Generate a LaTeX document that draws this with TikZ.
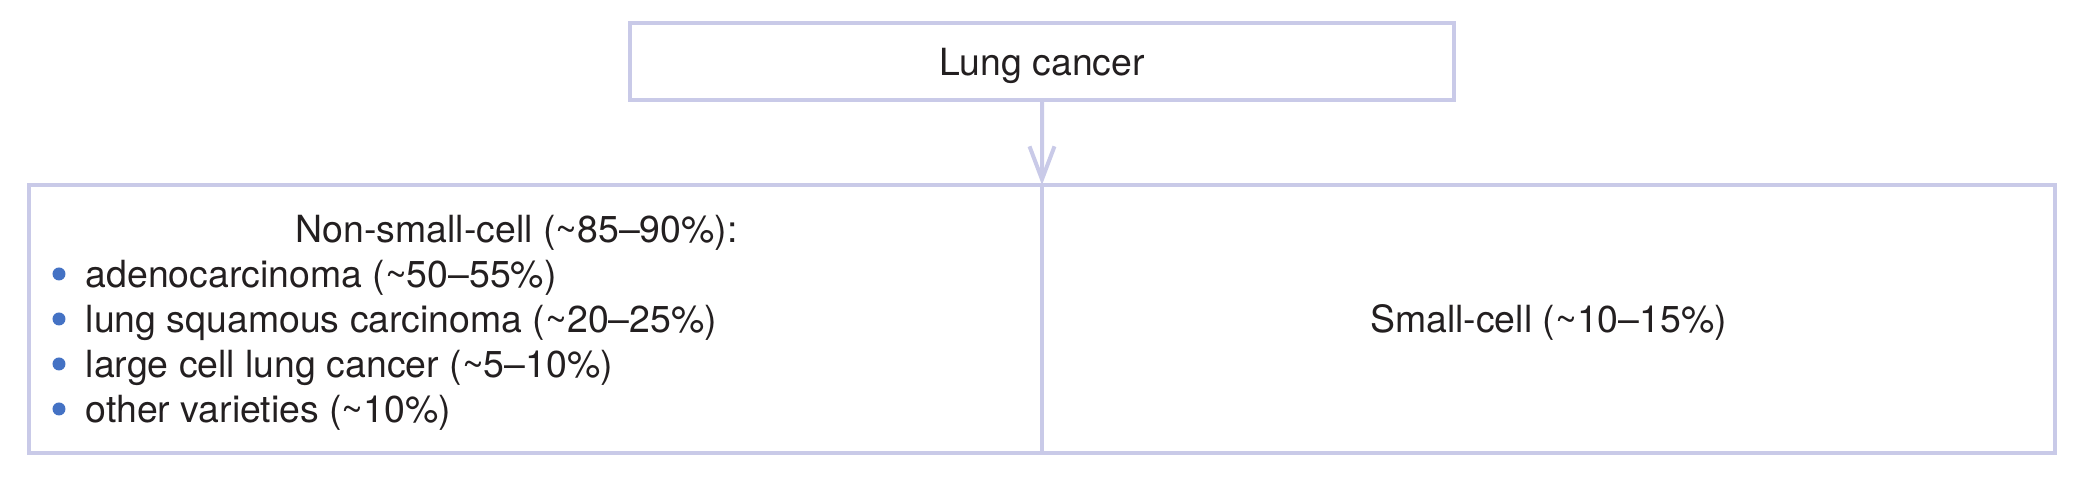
\documentclass[tikz,border=0pt]{standalone}
\usepackage{fontspec}
\setmainfont{TeX Gyre Heros}
\usetikzlibrary{arrows.meta,positioning}
\definecolor{boxline}{RGB}{201,202,232}
\definecolor{dotblue}{RGB}{68,114,196}
\definecolor{inktext}{RGB}{35,31,32}

\begin{document}
\begin{tikzpicture}[
    font=\fontsize{10.65pt}{12.8pt}\selectfont, text=inktext,
    cellbox/.style={draw=boxline, line width=0.45mm, outer sep=0pt, inner sep=0pt, text depth=0pt},
    linetext/.style={anchor=base west, inner sep=0pt},
    dot/.style={circle, fill=dotblue, inner sep=0pt, minimum size=1.3mm},
    arrowline/.style={draw=boxline, line width=0.4mm, -{Straight Barb[length=3.3mm, width=2.5mm]}}
  ]
  %%%%% START %%%%%
  \useasboundingbox (0,0) rectangle (20.77,4.77);

  \node[cellbox, minimum width=8.24cm, minimum height=0.77cm] (lung) at (10.42,4.155) {Lung cancer};

  \node[cellbox, minimum width=10.13cm, minimum height=2.68cm] (nsclc) at (5.355,1.58) {};
  \node[cellbox, minimum width=10.13cm, minimum height=2.68cm, right=0pt of nsclc] (sclc) {Small-cell (\textasciitilde10\textendash15\%)};

  \draw[arrowline] (lung.south) -- (nsclc.north east);

  \node[linetext] (nsclchead) at (2.95,2.34) {Non-small-cell (\textasciitilde85\textendash90\%):};

  \node[dot] (dota) at (0.59,2.03) {};
  \node[linetext] (adeno) at (0.85,1.89) {adenocarcinoma (\textasciitilde50\textendash55\%)};
  \node[dot] (dotb) at (0.59,1.58) {};
  \node[linetext] (squam) at (0.85,1.44) {lung squamous carcinoma (\textasciitilde20\textendash25\%)};
  \node[dot] (dotc) at (0.59,1.13) {};
  \node[linetext] (large) at (0.85,0.99) {large cell lung cancer (\textasciitilde5\textendash10\%)};
  \node[dot] (dotd) at (0.59,0.68) {};
  \node[linetext] (other) at (0.85,0.54) {other varieties (\textasciitilde10\%)};

  %%%%% END %%%%%
\end{tikzpicture}
\end{document}
